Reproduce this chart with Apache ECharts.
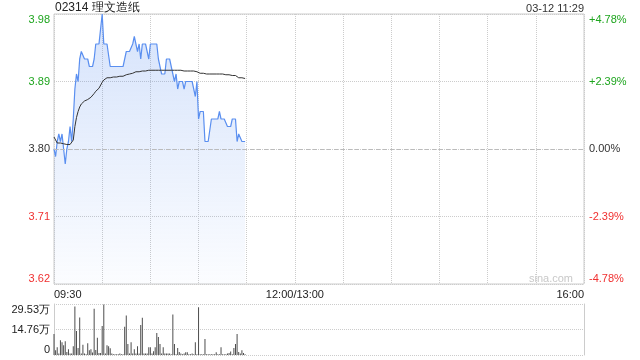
<!DOCTYPE html>
<html><head><meta charset="utf-8">
<script src="https://cdn.jsdelivr.net/npm/echarts@6/dist/echarts.min.js"></script>
<style>html,body{margin:0;padding:0;background:#fff}#c{width:640px;height:360px}</style>
</head><body><div id="c"></div>
<script>
const stockTitle = '02314 理文造纸';
const stamp = '03-12 11:29';
const prevClose = 3.80;
const priceTicks = [3.62, 3.71, 3.80, 3.89, 3.98];
const priceTickLabels = ['3.62', '3.71', '3.80', '3.89', '3.98'];
const pctTickLabels = ['-4.78%', '-2.39%', '0.00%', '+2.39%', '+4.78%'];
const timeTickLabels = {0: '09:30', 150: '12:00/13:00', 330: '16:00'};
const volTicks = [0, 14.765, 29.53];
const volTickLabels = ['0', '14.76万', '29.53万'];

const price = [
 3.80,3.79,3.81,3.82,3.81,3.82,3.80,3.78,3.80,3.81,
 3.83,3.81,3.84,3.88,3.90,3.89,3.92,3.93,3.93,3.92,
 3.92,3.92,3.91,3.91,3.91,3.92,3.94,3.94,3.94,3.94,
 3.98,3.94,3.94,3.94,3.94,3.91,3.91,3.91,3.91,3.91,
 3.91,3.91,3.91,3.91,3.91,3.93,3.93,3.93,3.93,3.94,
 3.95,3.95,3.93,3.94,3.92,3.94,3.94,3.94,3.94,3.92,
 3.94,3.94,3.94,3.94,3.94,3.92,3.91,3.90,3.90,3.90,
 3.92,3.92,3.92,3.92,3.90,3.89,3.90,3.88,3.89,3.89,
 3.89,3.88,3.89,3.89,3.89,3.89,3.89,3.89,3.87,3.89,
 3.84,3.85,3.85,3.85,3.81,3.81,3.81,3.81,3.84,3.84,
 3.84,3.84,3.84,3.85,3.84,3.84,3.84,3.84,3.83,3.83,
 3.83,3.84,3.84,3.84,3.81,3.82,3.82,3.81,3.81,3.81
];
const avgPrice = [
 3.816,3.812,3.808,3.807,3.808,3.808,3.807,3.806,3.806,3.806,
 3.806,3.806,3.812,3.830,3.842,3.850,3.856,3.860,3.862,3.864,
 3.865,3.866,3.867,3.869,3.871,3.874,3.877,3.879,3.881,3.883,
 3.889,3.892,3.894,3.895,3.895,3.895,3.895,3.896,3.896,3.896,
 3.896,3.897,3.897,3.897,3.898,3.899,3.900,3.900,3.901,3.901,
 3.902,3.903,3.903,3.903,3.904,3.904,3.904,3.904,3.905,3.905,
 3.905,3.905,3.905,3.905,3.905,3.905,3.905,3.905,3.905,3.905,
 3.905,3.905,3.905,3.905,3.905,3.905,3.905,3.905,3.905,3.905,
 3.905,3.904,3.904,3.904,3.904,3.904,3.904,3.904,3.903,3.903,
 3.901,3.901,3.901,3.901,3.900,3.900,3.900,3.900,3.900,3.900,
 3.900,3.900,3.900,3.900,3.900,3.900,3.899,3.899,3.899,3.899,
 3.899,3.898,3.898,3.898,3.896,3.895,3.895,3.895,3.894,3.894
];
const volume = [
 12.1,2.7,4.5,0.8,8.6,7.4,5.7,8.0,1.8,3.3,
 0.8,0.8,5.1,28.1,13.9,4.1,21.7,0.8,5.9,0.8,
 0.5,6.8,2.7,3.3,1.5,26.8,2.9,10.0,1.2,1.2,
 16.8,29.3,0.8,5.7,5.1,3.9,0.8,0.4,0.4,0.4,
 0.4,0.8,0.4,0.4,16.4,22.9,6.4,0.8,7.4,0.8,
 3.3,0.8,5.1,0.8,17.4,21.5,0.8,0.8,0.8,4.5,
 4.5,0.8,2.1,4.5,12.7,10.4,6.4,0.8,4.5,0.8,
 0.8,0.8,0.8,0.4,23.4,6.4,0.4,4.1,1.8,0.8,
 0.4,0.8,1.6,1.6,0.4,0.4,0.8,0.4,7.4,0.4,
 27.7,0.4,0.4,0.4,9.2,0.4,0.4,0.4,0.4,0.4,
 0.4,1.6,0.4,0.4,4.5,0.4,0.4,0.4,0.8,1.2,
 2.0,0.4,4.1,6.4,12.1,1.8,0.8,2.7,1.2,0.4
];

const GREEN = '#1ea51e', RED = '#f03030', DARK = '#333';
const FONT = '"Liberation Sans", Arial, sans-serif';
function idxOf(ticks, v) { return ticks.findIndex(t => Math.abs(t - v) < 1e-6); }
function priceColor(v) { return Math.abs(v - prevClose) < 1e-6 ? DARK : (v > prevClose ? GREEN : RED); }

const chart = echarts.init(document.getElementById('c'), null, {renderer: 'canvas'});
const gridL = 54, gridR = 56;
chart.setOption({
  animation: false,
  textStyle: {fontFamily: FONT},
  title: [
    {text: stockTitle, left: gridL + 1, top: 2, padding: 0, textStyle: {fontSize: 12, fontWeight: 'normal', color: '#222', fontFamily: FONT}},
    {text: stamp, right: gridR, top: 3, padding: 0, textStyle: {fontSize: 11, fontWeight: 'normal', color: '#333', fontFamily: FONT}}
  ],
  graphic: [{type: 'text', right: 67, top: 273, style: {text: 'sina.com', fill: '#c8c8c8', fontSize: 11, fontFamily: FONT}}],
  grid: [
    {left: gridL, right: gridR, top: 14, height: 270, show: true, borderColor: '#ccc', borderWidth: 1},
    {left: gridL, right: gridR, top: 304, height: 51}
  ],
  xAxis: [
    {type: 'value', gridIndex: 0, min: 0, max: 330, interval: 30,
     axisLine: {show: false}, axisTick: {show: false},
     splitLine: {show: true, lineStyle: {color: '#ccc', type: 'dotted'}},
     axisLabel: {margin: 5, fontSize: 11, color: '#222', fontFamily: FONT,
       alignMinLabel: 'left', alignMaxLabel: 'right',
       formatter: v => timeTickLabels[v] !== undefined ? timeTickLabels[v] : ''}},
    {type: 'value', gridIndex: 1, min: 0, max: 330, interval: 30,
     axisLine: {show: false}, axisTick: {show: false}, splitLine: {show: false}, axisLabel: {show: false}}
  ],
  yAxis: [
    {type: 'value', gridIndex: 0, min: 3.62, max: 3.98, interval: 0.09, position: 'left',
     axisLine: {show: false}, axisTick: {show: false},
     splitLine: {show: true, lineStyle: {color: '#ccc', type: 'dotted'}},
     axisLabel: {margin: 4, fontSize: 11, fontFamily: FONT, color: v => priceColor(v),
       formatter: v => { const i = idxOf(priceTicks, v); if (i < 0) return '';
         const t = priceTickLabels[i];
         return i === priceTicks.length - 1 ? '{t|' + t + '}' : (i === 0 ? '{b|' + t + '}' : t); },
       rich: {t: {padding: [11, 0, 0, 0], color: GREEN, fontSize: 11, fontFamily: FONT},
              b: {padding: [0, 0, 11, 0], color: RED, fontSize: 11, fontFamily: FONT}}}},
    {type: 'value', gridIndex: 0, min: 3.62, max: 3.98, interval: 0.09, position: 'right',
     axisLine: {show: false}, axisTick: {show: false}, splitLine: {show: false},
     axisLabel: {margin: 5, fontSize: 11, fontFamily: FONT, color: v => priceColor(v),
       formatter: v => { const i = idxOf(priceTicks, v); if (i < 0) return '';
         const t = pctTickLabels[i];
         return i === priceTicks.length - 1 ? '{t|' + t + '}' : (i === 0 ? '{b|' + t + '}' : t); },
       rich: {t: {padding: [11, 0, 0, 0], color: GREEN, fontSize: 11, fontFamily: FONT},
              b: {padding: [0, 0, 11, 0], color: RED, fontSize: 11, fontFamily: FONT}}}},
    {type: 'value', gridIndex: 1, min: 0, max: 29.53, interval: 14.765, position: 'left',
     axisLine: {show: true, lineStyle: {color: '#ccc'}}, axisTick: {show: false},
     splitLine: {show: true, lineStyle: {color: '#ccc', type: 'dotted', width: 1}},
     axisLabel: {margin: 4, fontSize: 11, fontFamily: FONT, color: '#222',
       formatter: v => { const i = idxOf(volTicks, v); if (i < 0) return '';
         const t = volTickLabels[i];
         return i === volTicks.length - 1 ? '{t|' + t + '}' : (i === 0 ? '{b|' + t + '}' : t); },
       rich: {t: {padding: [11, 0, 0, 0], color: '#222', fontSize: 11, fontFamily: FONT},
              b: {padding: [0, 0, 11, 0], color: '#222', fontSize: 11, fontFamily: FONT}}}},
    {type: 'value', gridIndex: 1, min: 0, max: 29.53, interval: 14.765, position: 'right',
     axisLine: {show: true, lineStyle: {color: '#ccc'}}, axisTick: {show: false},
     splitLine: {show: false}, axisLabel: {show: false}}
  ],
  series: [
    {type: 'line', xAxisIndex: 0, yAxisIndex: 0, data: price.map((p, i) => [i, p]),
     symbol: 'none', lineStyle: {color: '#5a8ff0', width: 1.2}, itemStyle: {color: '#5a8ff0'},
     areaStyle: {origin: 'start', color: new echarts.graphic.LinearGradient(0, 0, 0, 1, [
       {offset: 0, color: 'rgba(90,143,240,0.36)'}, {offset: 1, color: 'rgba(90,143,240,0.03)'}])},
     markLine: {silent: true, symbol: 'none', label: {show: false},
       lineStyle: {color: '#bbb', type: [4, 3], width: 1}, data: [{yAxis: prevClose}]},
     z: 3},
    {type: 'line', xAxisIndex: 0, yAxisIndex: 0, data: avgPrice.map((p, i) => [i, p]),
     symbol: 'none', lineStyle: {color: '#333', width: 1}, z: 4},
    {type: 'bar', xAxisIndex: 1, yAxisIndex: 2, data: volume.map((v, i) => [i, v]),
     barWidth: 1, itemStyle: {color: '#4d4d4d'}}
  ]
});
</script>
</body></html>
